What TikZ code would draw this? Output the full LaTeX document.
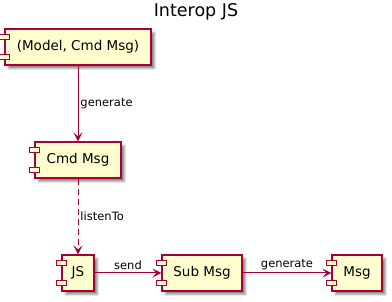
\documentclass[tikz,border=0pt]{standalone}
\usepackage{fontspec}
\setmainfont{DejaVu Sans}
\usetikzlibrary{arrows.meta,shadows.blur}

\definecolor{compfill}{HTML}{FEFECE}
\definecolor{compline}{HTML}{A80036}

\tikzset{
  component/.style={
    draw=compline, fill=compfill, line width=1.2pt,
    minimum height=36pt, inner sep=0pt,
    font=\fontsize{13.5}{16}\selectfont,
    blur shadow={shadow xshift=3.5pt, shadow yshift=-3.5pt,
                 shadow blur radius=2pt, shadow opacity=45},
  },
  tab/.style={draw=compline, fill=compfill, line width=1.2pt},
  link/.style={draw=compline, line width=1pt,
    -{Stealth[length=9pt, width=9pt, inset=4pt]}},
  lbl/.style={font=\fontsize{11.5}{14}\selectfont, text=black, inner sep=1pt},
}

\begin{document}
\begin{tikzpicture}[x=1pt, y=-1pt]
  \useasboundingbox (0,0) rectangle (392,302);

  \node[font=\fontsize{17.5}{20}\selectfont] (title) at (196,12) {Interop JS};

  \node[component, minimum width=146pt] (model) at (78,47) {(Model, Cmd Msg)};
  \node[component, minimum width=86pt]  (cmd)   at (78,160) {Cmd Msg};
  \node[component, minimum width=32pt]  (js)    at (78,273) {JS};
  \node[component, minimum width=80pt]  (sub)   at (202,273) {Sub Msg};
  \node[component, minimum width=50pt]  (msg)   at (357,273) {Msg};

  % the two small tabs on the left side of every component
  \foreach \c in {model,cmd,js,sub,msg} {
    \draw[tab] ([xshift=-5pt, yshift=-6pt]\c.north west) rectangle ++(10pt,-5pt);
    \draw[tab] ([xshift=-5pt, yshift=6pt]\c.south west) rectangle ++(10pt,5pt);
  }

  \draw[link] (model) -- node[lbl, right, xshift=1pt] {generate} (cmd);
  \draw[link, dash pattern=on 6pt off 4pt] (cmd) -- node[lbl, right, xshift=1pt] {listenTo} (js);
  \draw[link] (js) -- node[lbl, above, yshift=2pt] {send} (sub);
  \draw[link] (sub) -- node[lbl, above, yshift=2pt] {generate} (msg);
\end{tikzpicture}
\end{document}
